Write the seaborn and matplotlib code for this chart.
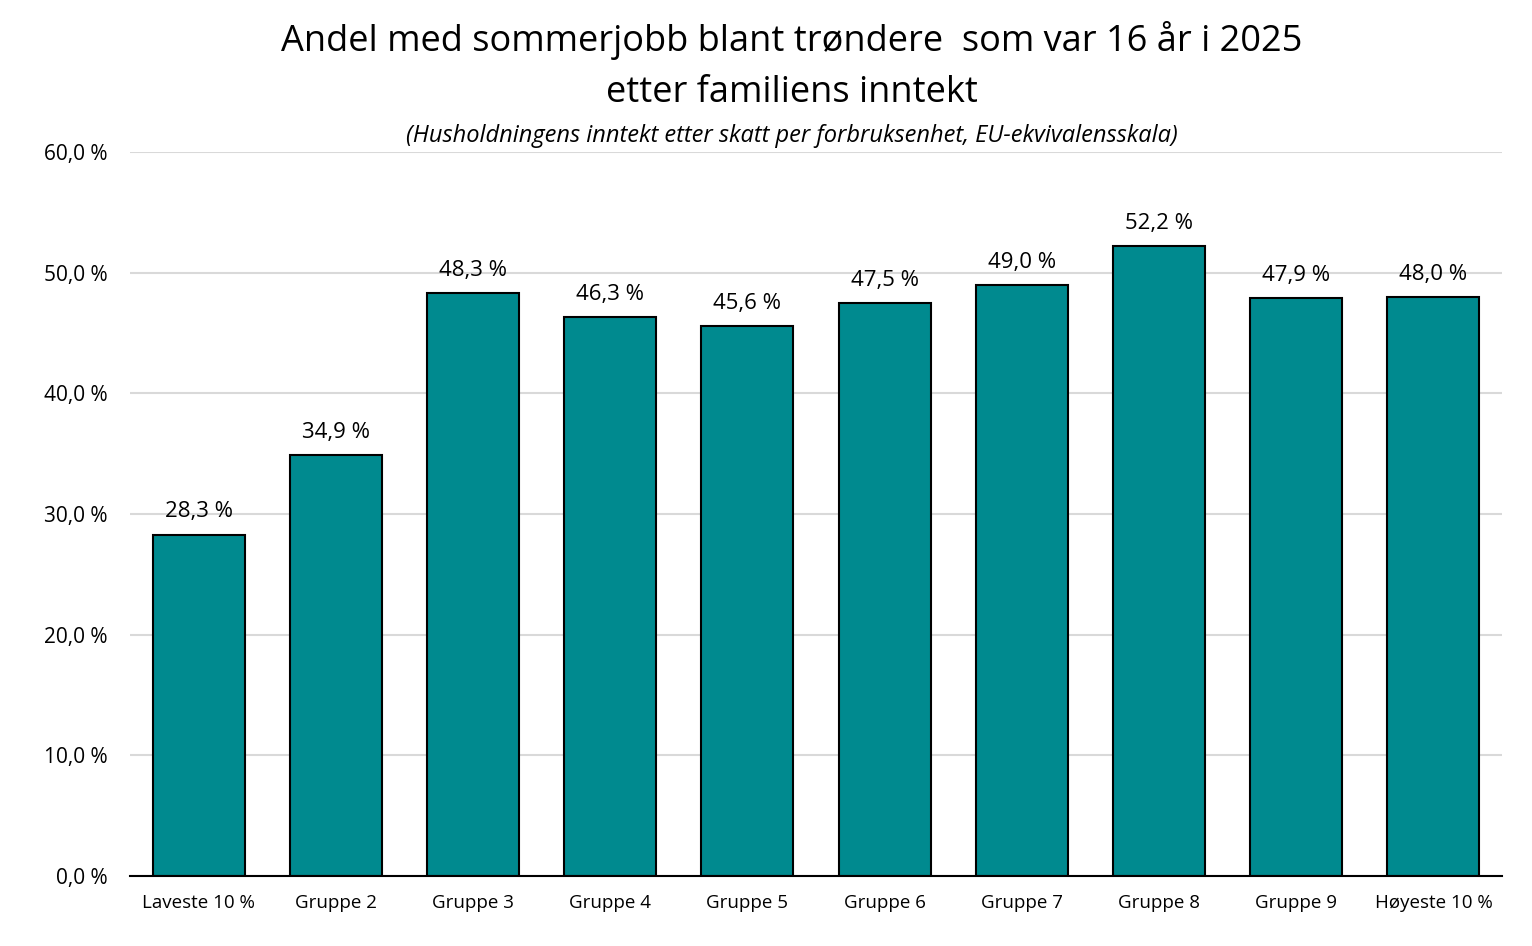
import matplotlib
matplotlib.use("Agg")
import matplotlib.pyplot as plt
import seaborn as sns
import pandas as pd
from matplotlib.ticker import FuncFormatter

categories = ["Laveste 10 %", "Gruppe 2", "Gruppe 3", "Gruppe 4", "Gruppe 5",
              "Gruppe 6", "Gruppe 7", "Gruppe 8", "Gruppe 9", "Høyeste 10 %"]
values = [28.3, 34.9, 48.3, 46.3, 45.6, 47.5, 49.0, 52.2, 47.9, 48.0]
yticks = [0, 10, 20, 30, 40, 50, 60]

title = "Andel med sommerjobb blant trøndere  som var 16 år i 2025\netter familiens inntekt"
subtitle = "(Husholdningens inntekt etter skatt per forbruksenhet, EU-ekvivalensskala)"

sns.set_theme(style="white")
plt.rcParams['font.family'] = ['Open Sans', 'DejaVu Sans']

df = pd.DataFrame({"kategori": categories, "andel": values})

fig = plt.figure(figsize=(15.32, 9.46), dpi=100)
ax = fig.add_axes([130/1532, 1-876/946, 1372/1532, (876-152)/946])

sns.barplot(data=df, x="kategori", y="andel", color="#008A8F", saturation=1,
            width=0.67, edgecolor="black", linewidth=1.5, ax=ax, zorder=3)

def fmt(v):
    return f"{v:.1f}".replace(".", ",") + " %"

for p, v in zip(ax.patches, values):
    ax.text(p.get_x() + p.get_width()/2, v + 1.0, fmt(v), ha="center", va="bottom",
            fontsize=16, color="black")

ax.set_ylim(0, 60)
ax.set_xlim(-0.5, len(categories) - 0.5)
ax.set_yticks(yticks)
ax.yaxis.set_major_formatter(FuncFormatter(lambda v, pos: fmt(v)))
ax.grid(axis="y", color="#D9D9D9", linewidth=1.5, zorder=0)
ax.set_axisbelow(True)
for s in ["left", "right", "top"]:
    ax.spines[s].set_visible(False)
ax.spines["bottom"].set_color("black")
ax.spines["bottom"].set_linewidth(1.5)
ax.spines["bottom"].set_zorder(4)
ax.set_xlabel("")
ax.set_ylabel("")
ax.tick_params(axis="y", labelsize=15, length=0, pad=16, colors="black")
ax.tick_params(axis="x", labelsize=13.5, length=0, pad=13, colors="black")

fig.text(792/1532, 1-40/946, title.split("\n")[0], ha="center", va="center", fontsize=26,
         color="black")
fig.text(792/1532, 1-93/946, title.split("\n")[1], ha="center", va="center", fontsize=26,
         color="black")
fig.text(792/1532, 1-136/946, subtitle, ha="center", va="center", fontsize=17,
         style="italic", color="black")

fig.savefig("out.png", dpi=100)
